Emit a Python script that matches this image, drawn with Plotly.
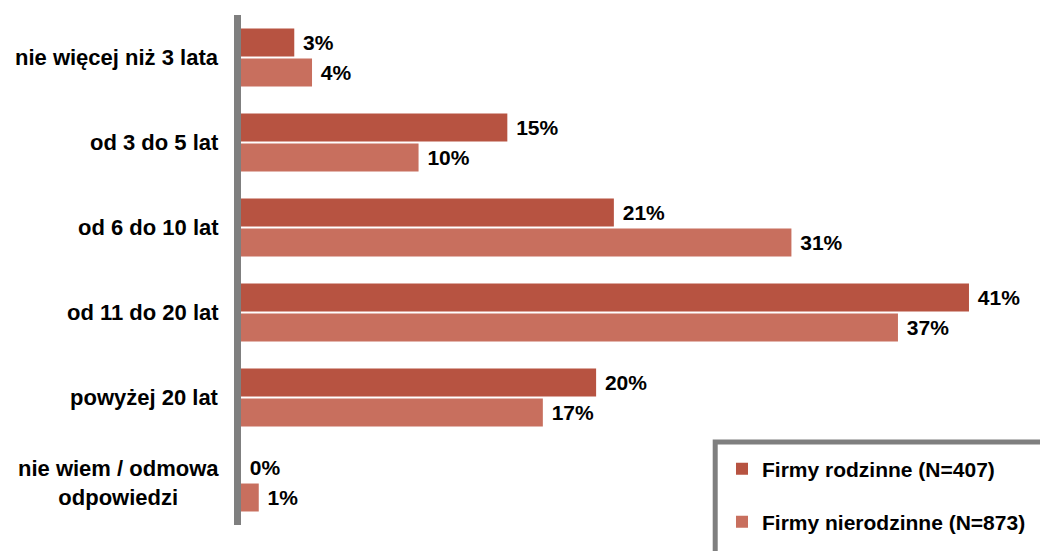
import plotly.graph_objects as go

# Survey answers: how long the company has existed (share of respondents, %)
categories = [
    "nie więcej niż 3 lata",
    "od 3 do 5 lat",
    "od 6 do 10 lat",
    "od 11 do 20 lat",
    "powyżej 20 lat",
    "nie wiem / odmowa<br>odpowiedzi",
]
family_firms = [3, 15, 21, 41, 20, 0]
nonfamily_firms = [4, 10, 31, 37, 17, 1]
series_names = ["Firmy rodzinne (N=407)", "Firmy nierodzinne (N=873)"]

DARK = "rgb(183,83,65)"
LIGHT = "rgb(200,111,94)"
GREY = "#7f7f7f"
FONT = "Liberation Sans, Arial, sans-serif"

fig = go.Figure()
for vals, name, color, lg in [
    (family_firms, series_names[0], DARK, "legend"),
    (nonfamily_firms, series_names[1], LIGHT, "legend2"),
]:
    fig.add_trace(go.Bar(
        x=vals, y=categories, orientation="h", name=name,
        marker=dict(color=color, line=dict(width=0)),
        text=vals, texttemplate="\u00a0%{x}%", textposition="outside",
        textfont=dict(family=FONT, size=21, color="black", weight="bold"),
        cliponaxis=False, legend=lg,
    ))

# Category labels, centred line by line
for cat in categories:
    fig.add_annotation(
        x=0, y=cat, xref="x", yref="y", xanchor="right", yanchor="middle",
        xshift=-20, text=cat, showarrow=False, align="center",
        font=dict(family=FONT, size=22, color="black", weight="bold"),
    )

# Legend frame
fig.add_shape(type="rect", xref="paper", yref="paper",
              x0=0.5935, x1=1.05, y0=0.1627, y1=-0.1,
              line=dict(color=GREY, width=5), fillcolor="white", layer="below")

legend_font = dict(family=FONT, size=21, color="black", weight="bold")
fig.update_layout(
    width=1040, height=551,
    margin=dict(l=241, r=0, t=15, b=26),
    paper_bgcolor="white", plot_bgcolor="white",
    barmode="group", bargap=0.294, bargroupgap=0.067,
    xaxis=dict(range=[0, 45], visible=False, fixedrange=True),
    yaxis=dict(categoryorder="array", categoryarray=categories,
               autorange="reversed", showticklabels=False, ticks="",
               showgrid=False, zeroline=False,
               showline=True, linecolor=GREY, linewidth=7),
    legend=dict(x=0.602, y=0.1098, xanchor="left", yanchor="middle",
                bgcolor="rgba(0,0,0,0)", font=legend_font),
    legend2=dict(x=0.602, y=0.0059, xanchor="left", yanchor="middle",
                 bgcolor="rgba(0,0,0,0)", font=legend_font),
    showlegend=True,
)

fig.write_html("out.html")
